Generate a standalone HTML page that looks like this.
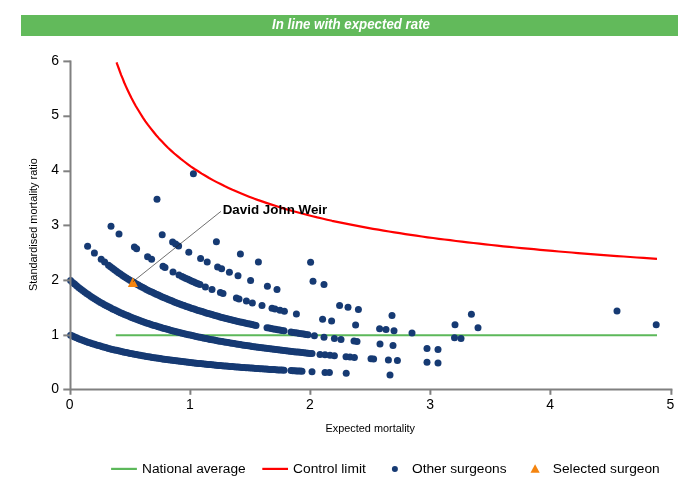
<!DOCTYPE html>
<html><head><meta charset="utf-8"><title>Funnel plot</title>
<style>
html,body{margin:0;padding:0;background:#fff}
svg{display:block}
text{font-family:"Liberation Sans",Arial,sans-serif}
</style></head><body>
<svg width="700" height="500" viewBox="0 0 700 500">
<rect x="0" y="0" width="700" height="500" fill="#fff"/>
<rect x="21" y="15" width="657" height="21" fill="#62BA5B"/>
<text x="351" y="29.4" text-anchor="middle" font-size="14" font-weight="bold" font-style="italic" fill="#fff" textLength="158" lengthAdjust="spacingAndGlyphs">In line with expected rate</text>
<line x1="115.8" y1="335.2" x2="657.0" y2="335.2" stroke="#5CB85A" stroke-width="2"/>
<g fill="#163A73">
<circle cx="70.6" cy="335.2" r="3.5"/><circle cx="72.6" cy="336.1" r="3.5"/><circle cx="74.6" cy="337.0" r="3.5"/><circle cx="76.6" cy="337.8" r="3.5"/><circle cx="78.6" cy="338.7" r="3.5"/><circle cx="80.6" cy="339.4" r="3.5"/><circle cx="82.6" cy="340.2" r="3.5"/><circle cx="84.6" cy="340.9" r="3.5"/><circle cx="86.6" cy="341.7" r="3.5"/><circle cx="88.5" cy="342.4" r="3.5"/><circle cx="90.5" cy="343.0" r="3.5"/><circle cx="92.5" cy="343.7" r="3.5"/><circle cx="94.5" cy="344.3" r="3.5"/><circle cx="96.5" cy="344.9" r="3.5"/><circle cx="98.5" cy="345.6" r="3.5"/><circle cx="100.5" cy="346.1" r="3.5"/><circle cx="102.5" cy="346.7" r="3.5"/><circle cx="104.5" cy="347.3" r="3.5"/><circle cx="106.5" cy="347.8" r="3.5"/><circle cx="108.5" cy="348.4" r="3.5"/><circle cx="110.5" cy="348.9" r="3.5"/><circle cx="112.5" cy="349.4" r="3.5"/><circle cx="114.5" cy="349.9" r="3.5"/><circle cx="116.5" cy="350.3" r="3.5"/><circle cx="118.5" cy="350.8" r="3.5"/><circle cx="120.5" cy="351.3" r="3.5"/><circle cx="122.5" cy="351.7" r="3.5"/><circle cx="124.4" cy="352.2" r="3.5"/><circle cx="126.4" cy="352.6" r="3.5"/><circle cx="128.4" cy="353.0" r="3.5"/><circle cx="130.4" cy="353.4" r="3.5"/><circle cx="132.4" cy="353.8" r="3.5"/><circle cx="134.4" cy="354.2" r="3.5"/><circle cx="136.4" cy="354.6" r="3.5"/><circle cx="138.4" cy="355.0" r="3.5"/><circle cx="140.4" cy="355.3" r="3.5"/><circle cx="142.4" cy="355.7" r="3.5"/><circle cx="144.4" cy="356.0" r="3.5"/><circle cx="146.4" cy="356.4" r="3.5"/><circle cx="148.4" cy="356.7" r="3.5"/><circle cx="150.4" cy="357.1" r="3.5"/><circle cx="152.4" cy="357.4" r="3.5"/><circle cx="154.4" cy="357.7" r="3.5"/><circle cx="156.4" cy="358.0" r="3.5"/><circle cx="158.4" cy="358.3" r="3.5"/><circle cx="160.3" cy="358.6" r="3.5"/><circle cx="162.3" cy="358.9" r="3.5"/><circle cx="164.3" cy="359.2" r="3.5"/><circle cx="166.3" cy="359.5" r="3.5"/><circle cx="168.3" cy="359.8" r="3.5"/><circle cx="170.3" cy="360.0" r="3.5"/><circle cx="172.3" cy="360.3" r="3.5"/><circle cx="174.3" cy="360.6" r="3.5"/><circle cx="176.3" cy="360.8" r="3.5"/><circle cx="178.3" cy="361.1" r="3.5"/><circle cx="180.3" cy="361.3" r="3.5"/><circle cx="182.3" cy="361.6" r="3.5"/><circle cx="184.3" cy="361.8" r="3.5"/><circle cx="186.3" cy="362.1" r="3.5"/><circle cx="188.3" cy="362.3" r="3.5"/><circle cx="190.3" cy="362.5" r="3.5"/><circle cx="192.3" cy="362.7" r="3.5"/><circle cx="194.3" cy="363.0" r="3.5"/><circle cx="196.2" cy="363.2" r="3.5"/><circle cx="198.2" cy="363.4" r="3.5"/><circle cx="200.2" cy="363.6" r="3.5"/><circle cx="202.2" cy="363.8" r="3.5"/><circle cx="204.2" cy="364.0" r="3.5"/><circle cx="206.2" cy="364.2" r="3.5"/><circle cx="208.2" cy="364.4" r="3.5"/><circle cx="210.2" cy="364.6" r="3.5"/><circle cx="212.2" cy="364.8" r="3.5"/><circle cx="214.2" cy="365.0" r="3.5"/><circle cx="216.2" cy="365.2" r="3.5"/><circle cx="218.2" cy="365.4" r="3.5"/><circle cx="220.2" cy="365.6" r="3.5"/><circle cx="222.2" cy="365.7" r="3.5"/><circle cx="224.2" cy="365.9" r="3.5"/><circle cx="226.2" cy="366.1" r="3.5"/><circle cx="228.2" cy="366.3" r="3.5"/><circle cx="230.2" cy="366.4" r="3.5"/><circle cx="232.1" cy="366.6" r="3.5"/><circle cx="234.1" cy="366.8" r="3.5"/><circle cx="236.1" cy="366.9" r="3.5"/><circle cx="238.1" cy="367.1" r="3.5"/><circle cx="240.1" cy="367.2" r="3.5"/><circle cx="242.1" cy="367.4" r="3.5"/><circle cx="244.1" cy="367.5" r="3.5"/><circle cx="246.1" cy="367.7" r="3.5"/><circle cx="248.1" cy="367.8" r="3.5"/><circle cx="250.1" cy="368.0" r="3.5"/><circle cx="252.1" cy="368.1" r="3.5"/><circle cx="254.1" cy="368.3" r="3.5"/><circle cx="256.1" cy="368.4" r="3.5"/><circle cx="258.1" cy="368.6" r="3.5"/><circle cx="260.1" cy="368.7" r="3.5"/><circle cx="262.1" cy="368.8" r="3.5"/><circle cx="264.1" cy="369.0" r="3.5"/><circle cx="266.1" cy="369.1" r="3.5"/><circle cx="268.0" cy="369.2" r="3.5"/><circle cx="270.0" cy="369.4" r="3.5"/><circle cx="272.0" cy="369.5" r="3.5"/><circle cx="274.0" cy="369.6" r="3.5"/><circle cx="276.0" cy="369.7" r="3.5"/><circle cx="278.0" cy="369.9" r="3.5"/><circle cx="280.0" cy="370.0" r="3.5"/><circle cx="282.0" cy="370.1" r="3.5"/><circle cx="284.0" cy="370.2" r="3.5"/><circle cx="291.0" cy="370.6" r="3.5"/><circle cx="292.8" cy="370.7" r="3.5"/><circle cx="294.7" cy="370.8" r="3.5"/><circle cx="296.5" cy="370.9" r="3.5"/><circle cx="298.3" cy="371.0" r="3.5"/><circle cx="300.2" cy="371.1" r="3.5"/><circle cx="302.0" cy="371.2" r="3.5"/><circle cx="312.0" cy="371.7" r="3.5"/><circle cx="325.0" cy="372.4" r="3.5"/><circle cx="329.4" cy="372.6" r="3.5"/><circle cx="346.2" cy="373.3" r="3.5"/><circle cx="390.0" cy="375.0" r="3.5"/>
<circle cx="70.6" cy="280.6" r="3.5"/><circle cx="72.6" cy="282.4" r="3.5"/><circle cx="74.6" cy="284.1" r="3.5"/><circle cx="76.6" cy="285.8" r="3.5"/><circle cx="78.6" cy="287.4" r="3.5"/><circle cx="80.6" cy="289.0" r="3.5"/><circle cx="82.6" cy="290.5" r="3.5"/><circle cx="84.6" cy="292.0" r="3.5"/><circle cx="86.6" cy="293.4" r="3.5"/><circle cx="88.6" cy="294.8" r="3.5"/><circle cx="90.6" cy="296.2" r="3.5"/><circle cx="92.5" cy="297.5" r="3.5"/><circle cx="94.5" cy="298.8" r="3.5"/><circle cx="96.5" cy="300.0" r="3.5"/><circle cx="98.5" cy="301.2" r="3.5"/><circle cx="100.5" cy="302.4" r="3.5"/><circle cx="102.5" cy="303.5" r="3.5"/><circle cx="104.5" cy="304.7" r="3.5"/><circle cx="106.5" cy="305.7" r="3.5"/><circle cx="108.5" cy="306.8" r="3.5"/><circle cx="110.5" cy="307.8" r="3.5"/><circle cx="112.5" cy="308.9" r="3.5"/><circle cx="114.5" cy="309.8" r="3.5"/><circle cx="116.5" cy="310.8" r="3.5"/><circle cx="118.5" cy="311.7" r="3.5"/><circle cx="120.5" cy="312.7" r="3.5"/><circle cx="122.5" cy="313.6" r="3.5"/><circle cx="124.5" cy="314.4" r="3.5"/><circle cx="126.5" cy="315.3" r="3.5"/><circle cx="128.5" cy="316.1" r="3.5"/><circle cx="130.5" cy="316.9" r="3.5"/><circle cx="132.4" cy="317.7" r="3.5"/><circle cx="134.4" cy="318.5" r="3.5"/><circle cx="136.4" cy="319.3" r="3.5"/><circle cx="138.4" cy="320.0" r="3.5"/><circle cx="140.4" cy="320.8" r="3.5"/><circle cx="142.4" cy="321.5" r="3.5"/><circle cx="144.4" cy="322.2" r="3.5"/><circle cx="146.4" cy="322.9" r="3.5"/><circle cx="148.4" cy="323.6" r="3.5"/><circle cx="150.4" cy="324.2" r="3.5"/><circle cx="152.4" cy="324.9" r="3.5"/><circle cx="154.4" cy="325.5" r="3.5"/><circle cx="156.4" cy="326.1" r="3.5"/><circle cx="158.4" cy="326.7" r="3.5"/><circle cx="160.4" cy="327.3" r="3.5"/><circle cx="162.4" cy="327.9" r="3.5"/><circle cx="164.4" cy="328.5" r="3.5"/><circle cx="166.4" cy="329.1" r="3.5"/><circle cx="168.4" cy="329.6" r="3.5"/><circle cx="170.4" cy="330.2" r="3.5"/><circle cx="172.3" cy="330.7" r="3.5"/><circle cx="174.3" cy="331.2" r="3.5"/><circle cx="176.3" cy="331.8" r="3.5"/><circle cx="178.3" cy="332.3" r="3.5"/><circle cx="180.3" cy="332.8" r="3.5"/><circle cx="182.3" cy="333.3" r="3.5"/><circle cx="184.3" cy="333.7" r="3.5"/><circle cx="186.3" cy="334.2" r="3.5"/><circle cx="188.3" cy="334.7" r="3.5"/><circle cx="190.3" cy="335.1" r="3.5"/><circle cx="192.3" cy="335.6" r="3.5"/><circle cx="194.3" cy="336.0" r="3.5"/><circle cx="196.3" cy="336.5" r="3.5"/><circle cx="198.3" cy="336.9" r="3.5"/><circle cx="200.3" cy="337.3" r="3.5"/><circle cx="202.3" cy="337.7" r="3.5"/><circle cx="204.3" cy="338.2" r="3.5"/><circle cx="206.3" cy="338.6" r="3.5"/><circle cx="208.3" cy="339.0" r="3.5"/><circle cx="210.3" cy="339.4" r="3.5"/><circle cx="212.2" cy="339.7" r="3.5"/><circle cx="214.2" cy="340.1" r="3.5"/><circle cx="216.2" cy="340.5" r="3.5"/><circle cx="218.2" cy="340.9" r="3.5"/><circle cx="220.2" cy="341.2" r="3.5"/><circle cx="222.2" cy="341.6" r="3.5"/><circle cx="224.2" cy="341.9" r="3.5"/><circle cx="226.2" cy="342.3" r="3.5"/><circle cx="228.2" cy="342.6" r="3.5"/><circle cx="230.2" cy="343.0" r="3.5"/><circle cx="232.2" cy="343.3" r="3.5"/><circle cx="234.2" cy="343.6" r="3.5"/><circle cx="236.2" cy="343.9" r="3.5"/><circle cx="238.2" cy="344.3" r="3.5"/><circle cx="240.2" cy="344.6" r="3.5"/><circle cx="242.2" cy="344.9" r="3.5"/><circle cx="244.2" cy="345.2" r="3.5"/><circle cx="246.2" cy="345.5" r="3.5"/><circle cx="248.2" cy="345.8" r="3.5"/><circle cx="250.2" cy="346.1" r="3.5"/><circle cx="252.1" cy="346.4" r="3.5"/><circle cx="254.1" cy="346.7" r="3.5"/><circle cx="256.1" cy="346.9" r="3.5"/><circle cx="258.1" cy="347.2" r="3.5"/><circle cx="260.1" cy="347.5" r="3.5"/><circle cx="262.1" cy="347.8" r="3.5"/><circle cx="264.1" cy="348.0" r="3.5"/><circle cx="266.1" cy="348.3" r="3.5"/><circle cx="268.1" cy="348.6" r="3.5"/><circle cx="270.1" cy="348.8" r="3.5"/><circle cx="272.1" cy="349.1" r="3.5"/><circle cx="274.1" cy="349.3" r="3.5"/><circle cx="276.1" cy="349.6" r="3.5"/><circle cx="278.1" cy="349.8" r="3.5"/><circle cx="280.1" cy="350.1" r="3.5"/><circle cx="282.1" cy="350.3" r="3.5"/><circle cx="284.1" cy="350.5" r="3.5"/><circle cx="286.1" cy="350.8" r="3.5"/><circle cx="288.1" cy="351.0" r="3.5"/><circle cx="290.1" cy="351.2" r="3.5"/><circle cx="292.0" cy="351.5" r="3.5"/><circle cx="294.0" cy="351.7" r="3.5"/><circle cx="296.0" cy="351.9" r="3.5"/><circle cx="298.0" cy="352.1" r="3.5"/><circle cx="300.0" cy="352.3" r="3.5"/><circle cx="302.0" cy="352.5" r="3.5"/><circle cx="304.0" cy="352.8" r="3.5"/><circle cx="306.0" cy="353.0" r="3.5"/><circle cx="308.0" cy="353.2" r="3.5"/><circle cx="310.0" cy="353.4" r="3.5"/><circle cx="312.0" cy="353.6" r="3.5"/><circle cx="320.0" cy="354.4" r="3.5"/><circle cx="325.0" cy="354.8" r="3.5"/><circle cx="330.0" cy="355.3" r="3.5"/><circle cx="334.4" cy="355.7" r="3.5"/><circle cx="346.0" cy="356.7" r="3.5"/><circle cx="350.0" cy="357.0" r="3.5"/><circle cx="354.4" cy="357.4" r="3.5"/><circle cx="371.0" cy="358.7" r="3.5"/><circle cx="373.6" cy="358.9" r="3.5"/><circle cx="388.4" cy="359.9" r="3.5"/><circle cx="397.4" cy="360.5" r="3.5"/><circle cx="427.0" cy="362.3" r="3.5"/><circle cx="438.0" cy="363.0" r="3.5"/>
<circle cx="87.6" cy="246.3" r="3.5"/><circle cx="94.4" cy="253.1" r="3.5"/><circle cx="101.2" cy="259.2" r="3.5"/><circle cx="104.6" cy="262.1" r="3.5"/><circle cx="108.5" cy="265.3" r="3.5"/><circle cx="110.5" cy="266.8" r="3.5"/><circle cx="112.5" cy="268.3" r="3.5"/><circle cx="114.5" cy="269.8" r="3.5"/><circle cx="116.5" cy="271.2" r="3.5"/><circle cx="118.5" cy="272.7" r="3.5"/><circle cx="120.5" cy="274.0" r="3.5"/><circle cx="122.5" cy="275.4" r="3.5"/><circle cx="124.4" cy="276.7" r="3.5"/><circle cx="126.4" cy="278.0" r="3.5"/><circle cx="128.4" cy="279.2" r="3.5"/><circle cx="130.4" cy="280.4" r="3.5"/><circle cx="132.4" cy="281.6" r="3.5"/><circle cx="134.4" cy="282.8" r="3.5"/><circle cx="136.4" cy="284.0" r="3.5"/><circle cx="138.4" cy="285.1" r="3.5"/><circle cx="140.4" cy="286.2" r="3.5"/><circle cx="142.4" cy="287.3" r="3.5"/><circle cx="144.4" cy="288.3" r="3.5"/><circle cx="146.4" cy="289.4" r="3.5"/><circle cx="148.4" cy="290.4" r="3.5"/><circle cx="150.4" cy="291.4" r="3.5"/><circle cx="152.4" cy="292.3" r="3.5"/><circle cx="154.3" cy="293.3" r="3.5"/><circle cx="156.3" cy="294.2" r="3.5"/><circle cx="158.3" cy="295.1" r="3.5"/><circle cx="160.3" cy="296.0" r="3.5"/><circle cx="162.3" cy="296.9" r="3.5"/><circle cx="164.3" cy="297.8" r="3.5"/><circle cx="166.3" cy="298.6" r="3.5"/><circle cx="168.3" cy="299.5" r="3.5"/><circle cx="170.3" cy="300.3" r="3.5"/><circle cx="172.3" cy="301.1" r="3.5"/><circle cx="174.3" cy="301.9" r="3.5"/><circle cx="176.3" cy="302.7" r="3.5"/><circle cx="178.3" cy="303.4" r="3.5"/><circle cx="180.3" cy="304.2" r="3.5"/><circle cx="182.2" cy="304.9" r="3.5"/><circle cx="184.2" cy="305.6" r="3.5"/><circle cx="186.2" cy="306.4" r="3.5"/><circle cx="188.2" cy="307.1" r="3.5"/><circle cx="190.2" cy="307.7" r="3.5"/><circle cx="192.2" cy="308.4" r="3.5"/><circle cx="194.2" cy="309.1" r="3.5"/><circle cx="196.2" cy="309.7" r="3.5"/><circle cx="198.2" cy="310.4" r="3.5"/><circle cx="200.2" cy="311.0" r="3.5"/><circle cx="202.2" cy="311.6" r="3.5"/><circle cx="204.2" cy="312.3" r="3.5"/><circle cx="206.2" cy="312.9" r="3.5"/><circle cx="208.2" cy="313.5" r="3.5"/><circle cx="210.2" cy="314.0" r="3.5"/><circle cx="212.1" cy="314.6" r="3.5"/><circle cx="214.1" cy="315.2" r="3.5"/><circle cx="216.1" cy="315.8" r="3.5"/><circle cx="218.1" cy="316.3" r="3.5"/><circle cx="220.1" cy="316.9" r="3.5"/><circle cx="222.1" cy="317.4" r="3.5"/><circle cx="224.1" cy="317.9" r="3.5"/><circle cx="226.1" cy="318.4" r="3.5"/><circle cx="228.1" cy="318.9" r="3.5"/><circle cx="230.1" cy="319.5" r="3.5"/><circle cx="232.1" cy="320.0" r="3.5"/><circle cx="234.1" cy="320.4" r="3.5"/><circle cx="236.1" cy="320.9" r="3.5"/><circle cx="238.1" cy="321.4" r="3.5"/><circle cx="240.1" cy="321.9" r="3.5"/><circle cx="242.0" cy="322.3" r="3.5"/><circle cx="244.0" cy="322.8" r="3.5"/><circle cx="246.0" cy="323.3" r="3.5"/><circle cx="248.0" cy="323.7" r="3.5"/><circle cx="250.0" cy="324.1" r="3.5"/><circle cx="252.0" cy="324.6" r="3.5"/><circle cx="254.0" cy="325.0" r="3.5"/><circle cx="256.0" cy="325.4" r="3.5"/><circle cx="267.0" cy="327.7" r="3.5"/><circle cx="269.1" cy="328.1" r="3.5"/><circle cx="271.2" cy="328.5" r="3.5"/><circle cx="273.4" cy="328.9" r="3.5"/><circle cx="275.5" cy="329.3" r="3.5"/><circle cx="277.6" cy="329.7" r="3.5"/><circle cx="279.8" cy="330.1" r="3.5"/><circle cx="281.9" cy="330.5" r="3.5"/><circle cx="284.0" cy="330.8" r="3.5"/><circle cx="291.0" cy="332.1" r="3.5"/><circle cx="293.1" cy="332.4" r="3.5"/><circle cx="295.2" cy="332.8" r="3.5"/><circle cx="297.4" cy="333.1" r="3.5"/><circle cx="299.5" cy="333.5" r="3.5"/><circle cx="301.6" cy="333.8" r="3.5"/><circle cx="303.8" cy="334.1" r="3.5"/><circle cx="305.9" cy="334.5" r="3.5"/><circle cx="308.0" cy="334.8" r="3.5"/><circle cx="314.4" cy="335.8" r="3.5"/><circle cx="324.0" cy="337.2" r="3.5"/><circle cx="334.4" cy="338.6" r="3.5"/><circle cx="341.0" cy="339.5" r="3.5"/><circle cx="354.0" cy="341.1" r="3.5"/><circle cx="357.0" cy="341.4" r="3.5"/><circle cx="380.0" cy="344.0" r="3.5"/><circle cx="393.0" cy="345.4" r="3.5"/><circle cx="427.0" cy="348.6" r="3.5"/><circle cx="438.0" cy="349.5" r="3.5"/>
<circle cx="111.0" cy="226.3" r="3.5"/><circle cx="119.0" cy="234.1" r="3.5"/><circle cx="134.4" cy="247.1" r="3.5"/><circle cx="136.6" cy="248.8" r="3.5"/><circle cx="147.6" cy="256.7" r="3.5"/><circle cx="151.6" cy="259.3" r="3.5"/><circle cx="163.0" cy="266.3" r="3.5"/><circle cx="165.0" cy="267.5" r="3.5"/><circle cx="173.0" cy="271.9" r="3.5"/><circle cx="179.0" cy="275.0" r="3.5"/><circle cx="182.0" cy="276.5" r="3.5"/><circle cx="184.0" cy="277.4" r="3.5"/><circle cx="186.0" cy="278.4" r="3.5"/><circle cx="188.0" cy="279.3" r="3.5"/><circle cx="190.0" cy="280.3" r="3.5"/><circle cx="192.0" cy="281.2" r="3.5"/><circle cx="194.0" cy="282.1" r="3.5"/><circle cx="196.0" cy="282.9" r="3.5"/><circle cx="198.0" cy="283.8" r="3.5"/><circle cx="200.0" cy="284.6" r="3.5"/><circle cx="205.4" cy="286.9" r="3.5"/><circle cx="212.0" cy="289.5" r="3.5"/><circle cx="220.4" cy="292.6" r="3.5"/><circle cx="223.0" cy="293.5" r="3.5"/><circle cx="236.4" cy="298.0" r="3.5"/><circle cx="239.0" cy="298.9" r="3.5"/><circle cx="246.4" cy="301.1" r="3.5"/><circle cx="252.4" cy="302.9" r="3.5"/><circle cx="262.0" cy="305.6" r="3.5"/><circle cx="272.0" cy="308.2" r="3.5"/><circle cx="275.0" cy="309.0" r="3.5"/><circle cx="280.0" cy="310.2" r="3.5"/><circle cx="284.4" cy="311.2" r="3.5"/><circle cx="296.4" cy="314.0" r="3.5"/><circle cx="322.6" cy="319.3" r="3.5"/><circle cx="331.6" cy="321.0" r="3.5"/><circle cx="355.6" cy="325.1" r="3.5"/><circle cx="379.6" cy="328.7" r="3.5"/><circle cx="386.0" cy="329.6" r="3.5"/><circle cx="394.0" cy="330.7" r="3.5"/><circle cx="412.0" cy="333.0" r="3.5"/><circle cx="454.5" cy="337.8" r="3.5"/><circle cx="461.0" cy="338.5" r="3.5"/>
<circle cx="162.2" cy="234.8" r="3.5"/><circle cx="172.6" cy="242.1" r="3.5"/><circle cx="175.6" cy="244.1" r="3.5"/><circle cx="178.6" cy="246.0" r="3.5"/><circle cx="188.8" cy="252.2" r="3.5"/><circle cx="200.6" cy="258.6" r="3.5"/><circle cx="207.2" cy="262.0" r="3.5"/><circle cx="217.6" cy="267.0" r="3.5"/><circle cx="221.6" cy="268.8" r="3.5"/><circle cx="229.4" cy="272.2" r="3.5"/><circle cx="238.0" cy="275.7" r="3.5"/><circle cx="250.6" cy="280.5" r="3.5"/><circle cx="267.4" cy="286.3" r="3.5"/><circle cx="277.0" cy="289.4" r="3.5"/><circle cx="339.6" cy="305.5" r="3.5"/><circle cx="348.0" cy="307.3" r="3.5"/><circle cx="358.4" cy="309.4" r="3.5"/><circle cx="392.0" cy="315.5" r="3.5"/><circle cx="455.0" cy="324.8" r="3.5"/><circle cx="478.0" cy="327.7" r="3.5"/>
<circle cx="157.0" cy="199.2" r="3.5"/><circle cx="216.4" cy="241.8" r="3.5"/><circle cx="240.4" cy="254.0" r="3.5"/><circle cx="258.4" cy="262.0" r="3.5"/><circle cx="313.0" cy="281.2" r="3.5"/><circle cx="324.0" cy="284.4" r="3.5"/><circle cx="471.4" cy="314.3" r="3.5"/>
<circle cx="310.6" cy="262.3" r="3.5"/><circle cx="656.2" cy="324.8" r="3.5"/>
<circle cx="193.4" cy="173.7" r="3.5"/><circle cx="617.0" cy="311.1" r="3.5"/>
</g>
<polyline points="116.6,62.4 117.0,63.6 117.8,65.8 118.8,68.5 119.9,71.6 121.2,75.1 122.7,78.7 124.2,82.5 125.9,86.4 127.7,90.3 129.6,94.3 131.6,98.3 133.7,102.2 135.9,106.2 138.2,110.0 140.5,113.8 142.9,117.6 145.4,121.3 148.0,124.9 150.7,128.4 153.4,131.8 156.2,135.2 159.0,138.4 162.0,141.6 165.0,144.7 168.0,147.7 171.1,150.6 174.3,153.5 177.5,156.2 180.8,158.9 184.2,161.5 187.6,164.1 191.0,166.6 194.5,169.0 198.1,171.3 201.7,173.6 205.4,175.8 209.1,178.0 212.9,180.1 216.7,182.1 220.6,184.1 224.5,186.1 228.5,187.9 232.5,189.8 236.6,191.6 240.7,193.3 244.9,195.0 249.1,196.7 253.3,198.3 257.6,199.9 262.0,201.4 266.3,202.9 270.8,204.4 275.2,205.8 279.7,207.2 284.3,208.6 288.9,210.0 293.5,211.3 298.2,212.5 302.9,213.8 307.7,215.0 312.5,216.2 317.3,217.4 322.2,218.5 327.1,219.7 332.0,220.8 337.0,221.8 342.1,222.9 347.1,223.9 352.2,224.9 357.4,225.9 362.5,226.9 367.8,227.9 373.0,228.8 378.3,229.7 383.6,230.6 389.0,231.5 394.4,232.4 399.8,233.2 405.3,234.1 410.8,234.9 416.3,235.7 421.9,236.5 427.5,237.3 433.1,238.0 438.8,238.8 444.5,239.5 450.2,240.2 456.0,241.0 461.8,241.7 467.6,242.3 473.5,243.0 479.4,243.7 485.3,244.3 491.3,245.0 497.2,245.6 503.3,246.3 509.3,246.9 515.4,247.5 521.5,248.1 527.7,248.7 533.9,249.2 540.1,249.8 546.3,250.4 552.6,250.9 558.9,251.5 565.2,252.0 571.6,252.5 578.0,253.1 584.4,253.6 590.9,254.1 597.3,254.6 603.9,255.1 610.4,255.6 617.0,256.1 623.6,256.5 630.2,257.0 636.8,257.5 643.5,257.9 650.2,258.4 657.0,258.8" fill="none" stroke="#FF0000" stroke-width="2.2" stroke-linejoin="round"/>
<polygon points="132.8,277.2 138,286.9 127.9,286.9" fill="#F4840F"/>
<line x1="133" y1="281.6" x2="221" y2="211.3" stroke="#222" stroke-width="0.65"/>
<text x="222.7" y="214.1" font-size="13.6" font-weight="bold" fill="#000" textLength="104.6" lengthAdjust="spacingAndGlyphs">David John Weir</text>
<g stroke="#808080" stroke-width="2" fill="none">
<line x1="70.5" y1="60.4" x2="70.5" y2="394.8"/>
<line x1="63.3" y1="389.4" x2="672.4" y2="389.4"/>
<line x1="63.3" y1="335.4" x2="70.6" y2="335.4"/><line x1="63.3" y1="280.4" x2="70.6" y2="280.4"/><line x1="63.3" y1="225.4" x2="70.6" y2="225.4"/><line x1="63.3" y1="171.3" x2="70.6" y2="171.3"/><line x1="63.3" y1="116.3" x2="70.6" y2="116.3"/><line x1="63.3" y1="61.4" x2="70.6" y2="61.4"/><line x1="190.4" y1="389.4" x2="190.4" y2="394.8"/><line x1="310.4" y1="389.4" x2="310.4" y2="394.8"/><line x1="430.4" y1="389.4" x2="430.4" y2="394.8"/><line x1="550.4" y1="389.4" x2="550.4" y2="394.8"/><line x1="671.4" y1="389.4" x2="671.4" y2="394.8"/>
</g>
<g font-size="14" fill="#000">
<text x="59" y="392.5" text-anchor="end">0</text><text x="59" y="338.5" text-anchor="end">1</text><text x="59" y="283.5" text-anchor="end">2</text><text x="59" y="228.5" text-anchor="end">3</text><text x="59" y="174.4" text-anchor="end">4</text><text x="59" y="119.4" text-anchor="end">5</text><text x="59" y="64.5" text-anchor="end">6</text><text x="69.6" y="409" text-anchor="middle">0</text><text x="189.8" y="409" text-anchor="middle">1</text><text x="309.9" y="409" text-anchor="middle">2</text><text x="430.1" y="409" text-anchor="middle">3</text><text x="550.2" y="409" text-anchor="middle">4</text><text x="670.4" y="409" text-anchor="middle">5</text>
</g>
<text x="370.3" y="431.5" font-size="11.4" text-anchor="middle" fill="#000" textLength="89.5" lengthAdjust="spacingAndGlyphs">Expected mortality</text>
<text transform="translate(36.9,224.6) rotate(-90)" font-size="11" text-anchor="middle" fill="#000" textLength="132.8" lengthAdjust="spacingAndGlyphs">Standardised mortality ratio</text>
<line x1="111.1" y1="468.9" x2="136.9" y2="468.9" stroke="#5CB85A" stroke-width="2.2"/>
<line x1="262.3" y1="468.9" x2="288" y2="468.9" stroke="#FF0000" stroke-width="2.2"/>
<circle cx="394.9" cy="469" r="3" fill="#163A73"/>
<polygon points="535.1,464.2 539.7,472.8 530.5,472.8" fill="#F4840F"/>
<g font-size="13.7" fill="#000">
<text x="142" y="473.0" textLength="103.7" lengthAdjust="spacingAndGlyphs">National average</text>
<text x="293" y="473.0" textLength="72.8" lengthAdjust="spacingAndGlyphs">Control limit</text>
<text x="412" y="473.0" textLength="94.6" lengthAdjust="spacingAndGlyphs">Other surgeons</text>
<text x="552.8" y="473.0" textLength="106.9" lengthAdjust="spacingAndGlyphs">Selected surgeon</text>
</g>
</svg>
</body></html>
